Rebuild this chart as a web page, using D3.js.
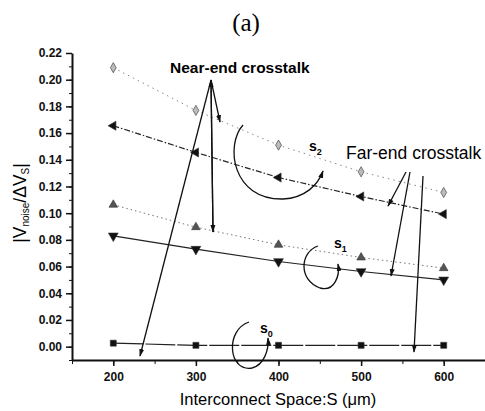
<!DOCTYPE html>
<html>
<head>
<meta charset="utf-8">
<script src="https://cdn.jsdelivr.net/npm/d3@7"></script>
<style>
  body { margin: 0; background: #fff; }
  svg { font-family: "Liberation Sans", Arial, sans-serif; }
</style>
</head>
<body>
<div id="chart"></div>
<script>
// data
var spaces = [200, 300, 400, 500, 600];
var nearS2 = [0.209, 0.177, 0.151, 0.131, 0.1155];
var farS2 = [0.1655, 0.1455, 0.1267, 0.1125, 0.0993];
var nearS1 = [0.1063, 0.0895, 0.0763, 0.0668, 0.0588];
var farS1 = [0.083, 0.073, 0.0638, 0.0563, 0.050];
var s0 = [0.0026, 0.001, 0.001, 0.001, 0.001];
var xTicks = [200, 300, 400, 500, 600];
var yTicks = [0.00, 0.02, 0.04, 0.06, 0.08, 0.10, 0.12, 0.14, 0.16, 0.18, 0.20, 0.22];

var svgWidth = 485, svgHeight = 411;
var margin = { top: 53, right: 0, bottom: 51, left: 72 };
var chartWidth = svgWidth - margin.left - margin.right;
var chartHeight = svgHeight - margin.top - margin.bottom;

var svg = d3.select("#chart").append("svg")
  .attr("width", svgWidth)
  .attr("height", svgHeight);

svg.append("defs").append("marker")
  .attr("id", "head")
  .attr("viewBox", "0 0 10 10")
  .attr("refX", 9).attr("refY", 5)
  .attr("markerWidth", 6).attr("markerHeight", 6)
  .attr("orient", "auto-start-reverse")
  .append("path")
  .attr("d", "M0,1.8 L10,5 L0,8.2 z")
  .attr("fill", "#111");

var chartGroup = svg.append("g")
  .attr("transform", `translate(${margin.left}, ${margin.top})`);

var xScale = d3.scaleLinear().domain([150, 650]).range([0, chartWidth]);
var yScale = d3.scaleLinear().domain([-0.01, 0.22]).range([chartHeight, 0]);

// axes, minor ticks first
chartGroup.append("g")
  .attr("transform", `translate(0, ${chartHeight})`)
  .call(d3.axisBottom(xScale).tickValues(d3.range(150, 651, 50)).tickSize(4).tickFormat(""))
  .call(g => g.select(".domain").remove());
chartGroup.append("g")
  .call(d3.axisLeft(yScale).tickValues(d3.range(-0.01, 0.2201, 0.01)).tickSize(3).tickFormat(""))
  .call(g => g.select(".domain").remove());

var xAxis = chartGroup.append("g")
  .attr("transform", `translate(0, ${chartHeight})`)
  .call(d3.axisBottom(xScale).tickValues(xTicks).tickSize(6).tickPadding(6).tickSizeOuter(0));
var yAxis = chartGroup.append("g")
  .call(d3.axisLeft(yScale).tickValues(yTicks).tickSize(6).tickPadding(4).tickSizeOuter(0)
    .tickFormat(d3.format(".2f")));

[xAxis, yAxis].forEach(function(a) {
  a.select(".domain").attr("stroke", "#111").attr("stroke-width", 2);
  a.selectAll(".tick line").attr("stroke", "#111").attr("stroke-width", 1.5);
  a.selectAll("text").attr("fill", "#111").attr("font-size", 12).attr("font-weight", "bold");
});
chartGroup.selectAll("g .tick line").attr("stroke", "#111");

// series
var line = d3.line()
  .x((d, i) => xScale(spaces[i]))
  .y(d => yScale(d));

var series = [
  { vals: nearS2, stroke: "#888", dash: "1.5,4", width: 1, sym: d3.symbolDiamond, rot: 0, fill: "#bbb", size: 30 },
  { vals: farS2, stroke: "#222", dash: "6,2,1.5,2", width: 1.2, sym: d3.symbolTriangle, rot: -90, fill: "#111", size: 36 },
  { vals: nearS1, stroke: "#777", dash: "1.5,3", width: 1, sym: d3.symbolTriangle, rot: 0, fill: "#555", size: 32 },
  { vals: farS1, stroke: "#222", dash: null, width: 1.2, sym: d3.symbolTriangle, rot: 180, fill: "#111", size: 42 },
  { vals: s0, stroke: "#222", dash: "30,2", width: 1.2, sym: d3.symbolSquare, rot: 0, fill: "#111", size: 36 }
];

series.forEach(function(s) {
  chartGroup.append("path")
    .datum(s.vals)
    .attr("d", line)
    .attr("fill", "none")
    .attr("stroke", s.stroke)
    .attr("stroke-width", s.width)
    .attr("stroke-dasharray", s.dash);
  chartGroup.selectAll(null)
    .data(s.vals)
    .enter()
    .append("path")
    .attr("d", d3.symbol().type(s.sym).size(s.size))
    .attr("transform", (d, i) => `translate(${xScale(spaces[i])}, ${yScale(d)}) rotate(${s.rot})`)
    .attr("fill", s.fill)
    .attr("stroke", "#333")
    .attr("stroke-width", 0.6);
});

// annotation arrows (page coordinates)
var notes = svg.append("g").attr("stroke", "#111").attr("stroke-width", 1.3).attr("fill", "none");
function arrow(x1, y1, x2, y2) {
  notes.append("line")
    .attr("x1", x1).attr("y1", y1).attr("x2", x2).attr("y2", y2)
    .attr("marker-end", "url(#head)");
}
arrow(211, 80, 140, 356);
arrow(211, 80, 213, 232);
arrow(211, 80, 220, 122);
notes.append("path").attr("d", "M213,232 L211,80").attr("marker-end", "url(#head)");
arrow(406, 172, 388, 206);
arrow(410, 172, 391, 276);
arrow(423, 176, 414, 352);

// curls
notes.append("path")
  .attr("d", "M243,125 C225,145 232,200 283,199 C305,198 318,185 323,171")
  .attr("marker-end", "url(#head)");
notes.append("path")
  .attr("d", "M318,246 C300,252 298,280 320,288 C335,292 340,275 338,264")
  .attr("marker-end", "url(#head)");
notes.append("path")
  .attr("d", "M249,322 C225,330 228,372 252,368 C264,365 269,350 268,338")
  .attr("marker-end", "url(#head)");

// texts
svg.append("text")
  .attr("x", 246).attr("y", 31)
  .attr("text-anchor", "middle")
  .attr("font-family", "Liberation Serif, serif")
  .attr("font-size", 25)
  .text("(a)");

svg.append("text")
  .attr("x", 170).attr("y", 73)
  .attr("font-size", 15.5).attr("font-weight", "bold")
  .text("Near-end crosstalk");

svg.append("text")
  .attr("x", 346).attr("y", 159)
  .attr("font-size", 17.5)
  .text("Far-end crosstalk");

function sLabel(x, y, sub) {
  var t = svg.append("text").attr("x", x).attr("y", y)
    .attr("font-size", 14).attr("font-weight", "bold");
  t.append("tspan").text("s");
  t.append("tspan").attr("font-size", 9).attr("dy", 4).text(sub);
}
sLabel(309, 151, "2");
sLabel(334, 248, "1");
sLabel(260, 333, "0");

// axis titles
svg.append("text")
  .attr("x", 278).attr("y", 405)
  .attr("text-anchor", "middle")
  .attr("font-size", 16.5)
  .text("Interconnect Space:S (\u03bcm)");

var yl = svg.append("text")
  .attr("transform", "translate(26, 203) rotate(-90)")
  .attr("text-anchor", "middle")
  .attr("font-size", 17.5);
yl.append("tspan").text("|V");
yl.append("tspan").attr("font-size", 10).attr("dy", 3).text("noise");
yl.append("tspan").attr("dy", -3).text("/\u0394V");
yl.append("tspan").attr("font-size", 10).attr("dy", 3).text("S");
yl.append("tspan").attr("dy", -3).text("|");
</script>
</body>
</html>
